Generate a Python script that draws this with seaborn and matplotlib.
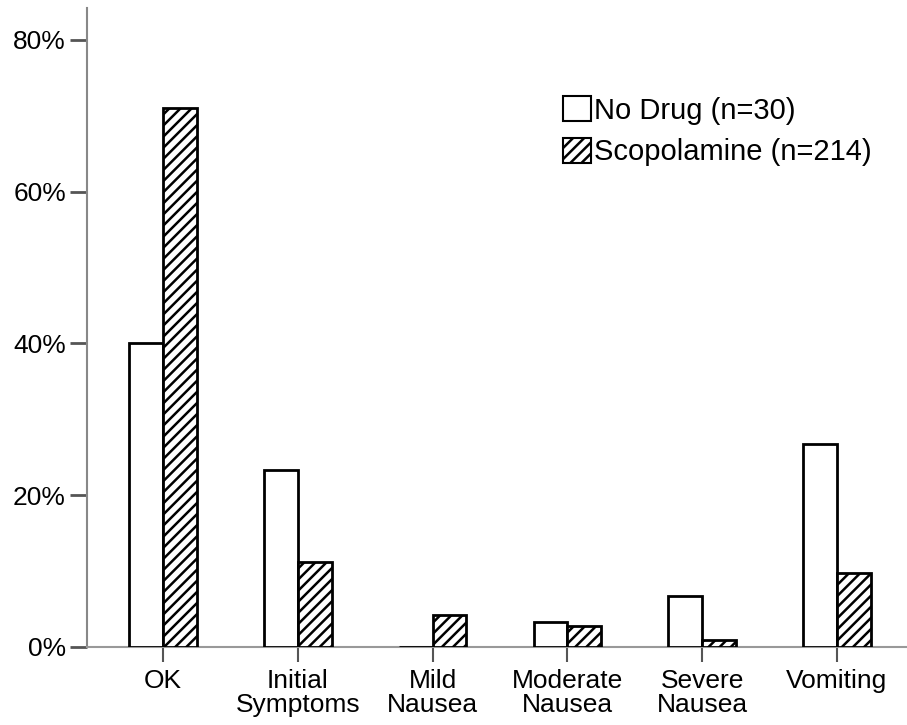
import pandas as pd
import seaborn as sns
import matplotlib.pyplot as plt
import matplotlib.ticker as ticker

categories = ['OK', 'Initial\nSymptoms', 'Mild\nNausea', 'Moderate\nNausea', 'Severe\nNausea', 'Vomiting']
groups = ['No Drug (n=30)', 'Scopolamine (n=214)']
no_drug = [40.0, 23.3, 0.0, 3.3, 6.7, 26.7]
scopolamine = [71.0, 11.2, 4.2, 2.8, 0.9, 9.8]


def main():
    df = pd.DataFrame({
        'category': categories * 2,
        'group': [groups[0]] * len(categories) + [groups[1]] * len(categories),
        'pct': no_drug + scopolamine,
    })

    sns.set_style('white')
    plt.rcParams['font.family'] = ['Liberation Sans', 'DejaVu Sans']
    plt.rcParams['hatch.linewidth'] = 1.8
    plt.rcParams['text.color'] = 'black'

    fig = plt.figure(figsize=(9.07, 7.25), dpi=100)
    ax = fig.add_axes([0.096, 0.1076, 0.904, 0.8814])

    sns.barplot(data=df, x='category', y='pct', hue='group', order=categories,
                hue_order=groups, width=0.5, ax=ax, errorbar=None,
                palette=['white', 'white'], edgecolor='black', linewidth=2, saturation=1)

    # hatch the scopolamine bars, keep bars above the axis line
    hatch = '///'
    n = len(categories)
    for i, p in enumerate(ax.patches[:2 * n]):
        p.set_zorder(3)
        if i >= n:
            p.set_hatch(hatch)

    ax.set_ylim(0, 84.2)
    ax.set_xlim(-0.564, 5.52)
    ax.yaxis.set_major_locator(ticker.MultipleLocator(20))
    ax.yaxis.set_major_formatter(ticker.FuncFormatter(lambda v, pos: '%d%%' % v))
    ax.set_xlabel('')
    ax.set_ylabel('')

    for s in ['top', 'right']:
        ax.spines[s].set_visible(False)
    ax.spines['left'].set_color('#888888')
    ax.spines['left'].set_linewidth(1.5)
    ax.spines['bottom'].set_color('#999999')
    ax.spines['bottom'].set_linewidth(1.5)

    ax.tick_params(axis='y', length=12.2, width=2, color='#555555', labelsize=19, pad=3,
                   direction='out', left=True, labelcolor='black')
    ax.tick_params(axis='x', length=10.8, width=1.5, color='#555555', labelsize=19, pad=5,
                   direction='out', bottom=True, labelcolor='black')
    for lab in ax.get_xticklabels():
        lab.set_linespacing(1.0)

    leg = ax.legend(loc='upper left', bbox_to_anchor=(0.5805, 0.862), frameon=False,
                    fontsize=21, handlelength=0.95, handleheight=0.95, handletextpad=0.12,
                    labelspacing=0.45, borderaxespad=0, borderpad=0)
    for h in leg.legend_handles:
        h.set_linewidth(1.5)
    leg.legend_handles[1].set_hatch(hatch)
    for t in leg.get_texts():
        t.set_color('black')

    fig.savefig('out.png', dpi=100)


if __name__ == '__main__':
    main()
